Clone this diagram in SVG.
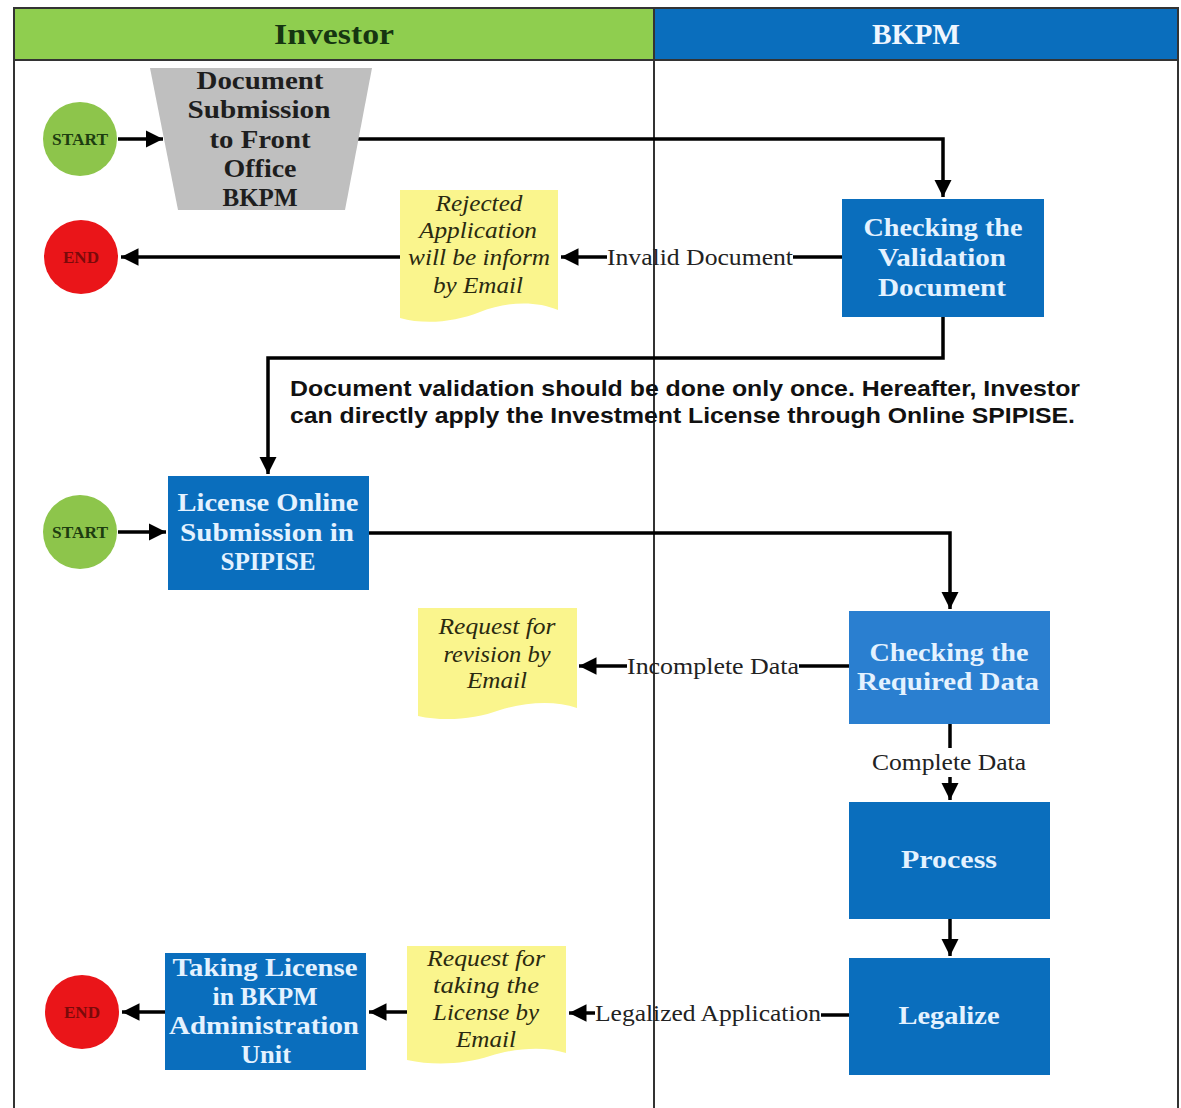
<svg xmlns="http://www.w3.org/2000/svg" width="1181" height="1108" viewBox="0 0 1181 1108">
<defs>
<marker id="ah" viewBox="0 0 10 10" refX="10" refY="5" markerWidth="5" markerHeight="5" markerUnits="strokeWidth" orient="auto">
<path d="M0,0 L10,5 L0,10 z" fill="#000"/>
</marker>
<style>
text{lengthAdjust:spacingAndGlyphs}
.lane{fill:none;stroke:#333;stroke-width:2}
.conn{fill:none;stroke:#000;stroke-width:3.5}
.arr{fill:none;stroke:#000;stroke-width:3.5;marker-end:url(#ah)}
.box{fill:#0a6ebd}
.box2{fill:#2a7fd0}
.bt{font-family:"Liberation Serif",serif;font-weight:bold;font-size:26px;fill:#e4f2ff;text-anchor:middle;dominant-baseline:central}
.gt{font-family:"Liberation Serif",serif;font-weight:bold;font-size:26px;fill:#1e1e1e;text-anchor:middle;dominant-baseline:central}
.doc{fill:#faf58d}
.dt{font-family:"Liberation Serif",serif;font-style:italic;font-size:24px;fill:#2a2a10;text-anchor:middle;dominant-baseline:central}
.lbl{font-family:"Liberation Serif",serif;font-size:23px;fill:#222;text-anchor:middle;dominant-baseline:central}
.start{fill:#8dc54b}
.st{font-family:"Liberation Serif",serif;font-weight:bold;font-size:16px;fill:#1d3d10;text-anchor:middle;dominant-baseline:central}
.end{fill:#ea1519}
.et{font-family:"Liberation Serif",serif;font-weight:bold;font-size:16px;fill:#7a0a0a;text-anchor:middle;dominant-baseline:central}
.hd{font-family:"Liberation Serif",serif;font-weight:bold;font-size:30px;text-anchor:middle;dominant-baseline:central}
.note{font-family:"Liberation Sans",Arial,sans-serif;font-weight:bold;font-size:22px;fill:#111}
</style>
</defs>
<rect width="1181" height="1108" fill="#fff"/>
<g id="lanes">
<rect x="14" y="8" width="640" height="52" fill="#8fce4f"/>
<rect x="654" y="8" width="525" height="52" fill="#0a6ebd"/>
<text class="hd" x="334" y="33" fill="#163511" textLength="120" lengthAdjust="spacingAndGlyphs">Investor</text>
<text class="hd" x="916" y="33" fill="#eef6ff" textLength="88" lengthAdjust="spacingAndGlyphs">BKPM</text>
<path class="lane" d="M14,1108 V8 H1178 V1108 M14,60 H1178 M654,8 V1108"/>
</g>
<g id="connectors">
<path class="arr" d="M118,139 H163"/>
<path class="arr" d="M355,139 H943 V197"/>
<path class="conn" d="M842,257 H793"/>
<path class="arr" d="M607,257 H561"/>
<path class="arr" d="M400,257 H121"/>
<path class="arr" d="M943,317 V358 H268 V474"/>
<path class="arr" d="M118,532 H166"/>
<path class="arr" d="M369,533 H950 V609"/>
<path class="conn" d="M849,666 H799"/>
<path class="arr" d="M627,666 H579"/>
<path class="conn" d="M950,724 V748"/>
<path class="arr" d="M950,777 V800"/>
<path class="arr" d="M950,919 V956"/>
<path class="conn" d="M849,1015 H821"/>
<path class="arr" d="M595,1013 H569"/>
<path class="arr" d="M407,1012 H369"/>
<path class="arr" d="M165,1012 H122"/>
<text class="lbl" x="700" y="257" textLength="186" lengthAdjust="spacingAndGlyphs">Invalid Document</text>
<text class="lbl" x="713" y="666" textLength="172" lengthAdjust="spacingAndGlyphs">Incomplete Data</text>
<text class="lbl" x="949" y="762" textLength="154" lengthAdjust="spacingAndGlyphs">Complete Data</text>
<text class="lbl" x="708" y="1013" textLength="226" lengthAdjust="spacingAndGlyphs">Legalized Application</text>
</g>
<g id="start1">
<circle class="start" cx="80" cy="139" r="37"/>
<text class="st" x="80" y="139" textLength="56" lengthAdjust="spacingAndGlyphs">START</text>
</g>
<g id="submission">
<path d="M150,68 H372 L345,210 H178 Z" fill="#bfbfbf"/>
<text class="gt" x="260" y="80" textLength="127" lengthAdjust="spacingAndGlyphs">Document</text>
<text class="gt" x="259" y="109" textLength="143" lengthAdjust="spacingAndGlyphs">Submission</text>
<text class="gt" x="260" y="139" textLength="101" lengthAdjust="spacingAndGlyphs">to Front</text>
<text class="gt" x="260" y="168" textLength="73" lengthAdjust="spacingAndGlyphs">Office</text>
<text class="gt" x="260" y="197" textLength="75" lengthAdjust="spacingAndGlyphs">BKPM</text>
</g>
<g id="checkValidation">
<rect class="box" x="842" y="199" width="202" height="118"/>
<text class="bt" x="943" y="227" textLength="159" lengthAdjust="spacingAndGlyphs">Checking the</text>
<text class="bt" x="942" y="257" textLength="128" lengthAdjust="spacingAndGlyphs">Validation</text>
<text class="bt" x="942" y="287" textLength="128" lengthAdjust="spacingAndGlyphs">Document</text>
</g>
<g id="rejected">
<path class="doc" d="M400,190 H558 V310 C535,300 505,302 480,312 C455,322 425,325 400,318 Z"/>
<text class="dt" x="479" y="203" textLength="87" lengthAdjust="spacingAndGlyphs">Rejected</text>
<text class="dt" x="478" y="230" textLength="118" lengthAdjust="spacingAndGlyphs">Application</text>
<text class="dt" x="479" y="257" textLength="142" lengthAdjust="spacingAndGlyphs">will be inform</text>
<text class="dt" x="478" y="285" textLength="90" lengthAdjust="spacingAndGlyphs">by Email</text>
</g>
<g id="end1">
<circle class="end" cx="81" cy="257" r="37"/>
<text class="et" x="81" y="257" textLength="36" lengthAdjust="spacingAndGlyphs">END</text>
</g>
<g id="note">
<text class="note" x="290" y="396" textLength="790" lengthAdjust="spacingAndGlyphs">Document validation should be done only once. Hereafter, Investor</text>
<text class="note" x="290" y="423" textLength="785" lengthAdjust="spacingAndGlyphs">can directly apply the Investment License through Online SPIPISE.</text>
</g>
<g id="start2">
<circle class="start" cx="80" cy="532" r="37"/>
<text class="st" x="80" y="532" textLength="56" lengthAdjust="spacingAndGlyphs">START</text>
</g>
<g id="licenseOnline">
<rect class="box" x="168" y="476" width="201" height="114"/>
<text class="bt" x="268" y="502" textLength="181" lengthAdjust="spacingAndGlyphs">License Online</text>
<text class="bt" x="267" y="532" textLength="174" lengthAdjust="spacingAndGlyphs">Submission in</text>
<text class="bt" x="268" y="561" textLength="95" lengthAdjust="spacingAndGlyphs">SPIPISE</text>
</g>
<g id="checkRequired">
<rect class="box2" x="849" y="611" width="201" height="113"/>
<text class="bt" x="949" y="652" textLength="159" lengthAdjust="spacingAndGlyphs">Checking the</text>
<text class="bt" x="948" y="681" textLength="182" lengthAdjust="spacingAndGlyphs">Required Data</text>
</g>
<g id="revision">
<path class="doc" d="M418,608 H577 V708 C555,700 525,702 500,710 C475,719 445,722 418,716 Z"/>
<text class="dt" x="497" y="626" textLength="117" lengthAdjust="spacingAndGlyphs">Request for</text>
<text class="dt" x="497" y="654" textLength="107" lengthAdjust="spacingAndGlyphs">revision by</text>
<text class="dt" x="497" y="680" textLength="60" lengthAdjust="spacingAndGlyphs">Email</text>
</g>
<g id="process">
<rect class="box" x="849" y="802" width="201" height="117"/>
<text class="bt" x="949" y="859" textLength="96" lengthAdjust="spacingAndGlyphs">Process</text>
</g>
<g id="legalize">
<rect class="box" x="849" y="958" width="201" height="117"/>
<text class="bt" x="949" y="1015" textLength="101" lengthAdjust="spacingAndGlyphs">Legalize</text>
</g>
<g id="takingRequest">
<path class="doc" d="M407,946 H566 V1053 C545,1046 515,1048 490,1056 C465,1064 435,1066 407,1060 Z"/>
<text class="dt" x="486" y="958" textLength="118" lengthAdjust="spacingAndGlyphs">Request for</text>
<text class="dt" x="486" y="985" textLength="106" lengthAdjust="spacingAndGlyphs">taking the</text>
<text class="dt" x="486" y="1012" textLength="106" lengthAdjust="spacingAndGlyphs">License by</text>
<text class="dt" x="486" y="1039" textLength="60" lengthAdjust="spacingAndGlyphs">Email</text>
</g>
<g id="takingLicense">
<rect class="box" x="165" y="953" width="201" height="117"/>
<text class="bt" x="265" y="967" textLength="185" lengthAdjust="spacingAndGlyphs">Taking License</text>
<text class="bt" x="265" y="996" textLength="105" lengthAdjust="spacingAndGlyphs">in BKPM</text>
<text class="bt" x="264" y="1025" textLength="190" lengthAdjust="spacingAndGlyphs">Administration</text>
<text class="bt" x="266" y="1054" textLength="50" lengthAdjust="spacingAndGlyphs">Unit</text>
</g>
<g id="end2">
<circle class="end" cx="82" cy="1012" r="37"/>
<text class="et" x="82" y="1012" textLength="36" lengthAdjust="spacingAndGlyphs">END</text>
</g>
</svg>
